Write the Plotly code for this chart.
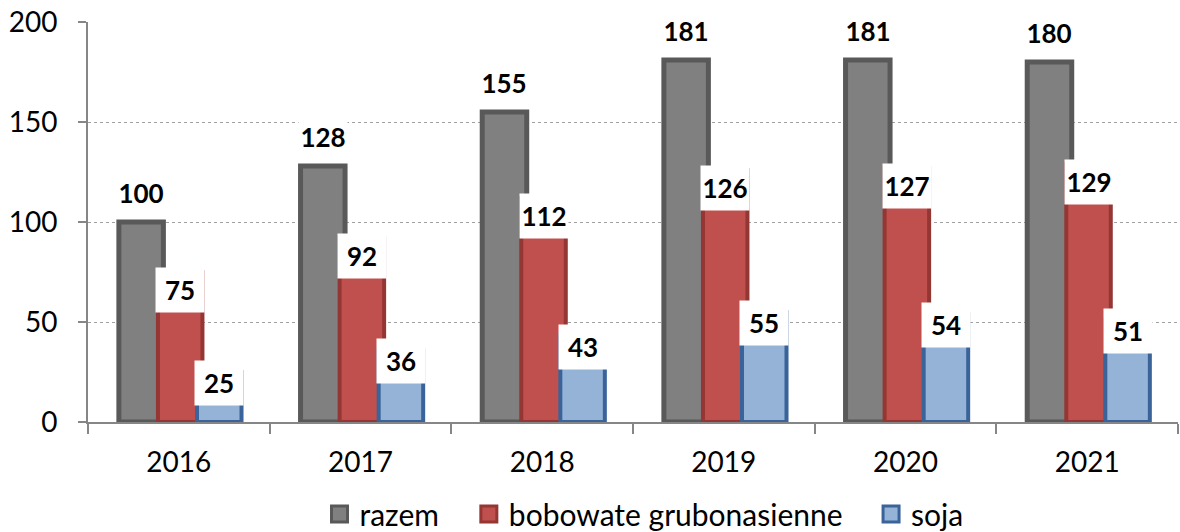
import plotly.graph_objects as go

years = ["2016", "2017", "2018", "2019", "2020", "2021"]
razem = [100, 128, 155, 181, 181, 180]
bobowate = [75, 92, 112, 126, 127, 129]
soja = [25, 36, 43, 55, 54, 51]
series_names = ["razem", "bobowate grubonasienne", "soja"]
y_ticks = [0, 50, 100, 150, 200]

FONT = "Lato, Carlito, Calibri, sans-serif"

styles = [
    dict(fill="#808080", line="#595959", lw=5, offset=-0.33, label_anchor="bottom", label_shift=6,
         legend="legend", lx=0.2124),
    dict(fill="#C0504D", line="#943634", lw=4, offset=-0.115, label_anchor="top", label_shift=5,
         legend="legend2", lx=0.3494),
    dict(fill="#95B3D7", line="#3A6399", lw=4, offset=0.10, label_anchor="top", label_shift=12,
         legend="legend3", lx=0.7184),
]
BAR_W = 0.245

fig = go.Figure()
annotations = []
legends = {}
for name, vals, st in zip(series_names, [razem, bobowate, soja], styles):
    fig.add_trace(go.Bar(
        x=years, y=vals, name=name,
        width=BAR_W, offset=st["offset"],
        marker=dict(color=st["fill"], line=dict(color=st["line"], width=st["lw"])),
        showlegend=False, hoverinfo="y",
    ))
    # legend proxy
    fig.add_trace(go.Scatter(
        x=[None], y=[None], mode="markers", name=name, legend=st["legend"],
        marker=dict(symbol="square", size=21, color=st["fill"], line=dict(color=st["line"], width=3)),
    ))
    legends[st["legend"]] = dict(
        orientation="h", x=st["lx"], xanchor="left", y=-0.23, yanchor="middle",
        font=dict(family=FONT, size=30, color="black"),
        bgcolor="rgba(0,0,0,0)", itemwidth=30,
    )
    for i, v in enumerate(vals):
        annotations.append(dict(
            x=i + st["offset"] + BAR_W / 2, y=v, xref="x", yref="y",
            text=f"<b>{v}</b>", showarrow=False,
            yanchor=st["label_anchor"], xanchor="center",
            yshift=st["label_shift"],
            bgcolor="white", width=46, height=42,
            font=dict(family=FONT, size=26, color="black"),
        ))

fig.update_layout(
    width=1180, height=532,
    margin=dict(l=88, r=2, t=22, b=110, autoexpand=False),
    paper_bgcolor="white", plot_bgcolor="white",
    barmode="overlay",
    font=dict(family=FONT, size=28, color="black"),
    annotations=annotations,
    **legends,
    xaxis=dict(
        type="category", showgrid=False, automargin=False,
        showline=True, linecolor="#868686", linewidth=2,
        ticks="outside", tickson="boundaries", ticklen=10, tickcolor="#868686", tickwidth=2,
        tickfont=dict(family=FONT, size=28, color="black"),
        ticklabelstandoff=14,
        range=[-0.5, 5.5],
    ),
    yaxis=dict(
        range=[0, 200], tickvals=y_ticks, automargin=False,
        showgrid=True, gridcolor="#A0A0A0", griddash="dot", gridwidth=1,
        showline=True, linecolor="#868686", linewidth=2,
        ticks="outside", ticklen=8, tickcolor="#868686", tickwidth=2,
        tickfont=dict(family=FONT, size=28, color="black"),
        ticklabelstandoff=15, zeroline=False,
    ),
)

fig.write_html("out.html", config={"displayModeBar": False},
               post_script="document.body.style.margin='0px';")
